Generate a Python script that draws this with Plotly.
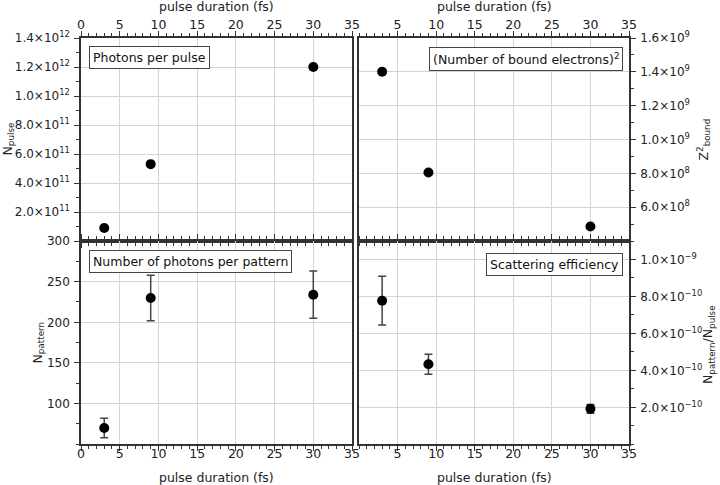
import plotly.graph_objects as go

# ---------------- data ----------------
duration = [3, 9, 30]
n_pulse = [9.0e10, 5.3e11, 1.2e12]
z2_bound = [1.40e9, 8.05e8, 4.86e8]
n_pattern = [70, 230, 234]
n_pattern_err = [12, 28, 29]
efficiency = [7.77e-10, 4.33e-10, 1.92e-10]
efficiency_err = [1.32e-10, 0.54e-10, 0.24e-10]

x_ticks_left = [0, 5, 10, 15, 20, 25, 30, 35]
x_ticks_right = [5, 10, 15, 20, 25, 30, 35]

tl_ticks = [2e11, 4e11, 6e11, 8e11, 1.0e12, 1.2e12, 1.4e12]
tl_text = ["2.0×10<sup>11</sup>", "4.0×10<sup>11</sup>", "6.0×10<sup>11</sup>", "8.0×10<sup>11</sup>",
           "1.0×10<sup>12</sup>", "1.2×10<sup>12</sup>", "1.4×10<sup>12</sup>"]
tr_ticks = [6e8, 8e8, 1.0e9, 1.2e9, 1.4e9, 1.6e9]
tr_text = ["6.0×10<sup>8</sup>", "8.0×10<sup>8</sup>", "1.0×10<sup>9</sup>", "1.2×10<sup>9</sup>",
           "1.4×10<sup>9</sup>", "1.6×10<sup>9</sup>"]
bl_ticks = [100, 150, 200, 250, 300]
br_ticks = [2e-10, 4e-10, 6e-10, 8e-10, 1.0e-9]
br_text = ["2.0×10<sup>−10</sup>", "4.0×10<sup>−10</sup>", "6.0×10<sup>−10</sup>", "8.0×10<sup>−10</sup>",
           "1.0×10<sup>−9</sup>"]

x_title = "pulse duration (fs)"
y_titles = ["N<sub>pulse</sub>", "Z<sup>2</sup><sub>bound</sub>", "N<sub>pattern</sub>",
            "N<sub>pattern</sub>/N<sub>pulse</sub>"]
panel_labels = ["Photons per pulse", "(Number of bound electrons)<sup>2</sup>",
                "Number of photons per pattern", "Scattering efficiency"]

# ---------------- layout geometry ----------------
W, H = 720, 485
xl = [81 / W, 352 / W]
xr = [359 / W, 629 / W]
yt = [1 - 241 / H, 1 - 38 / H]
yb = [1 - 444.3 / H, 1 - 241 / H]

FONT = "DejaVu Sans"
FS = 12.5
TFS = 12
AX = "#333333"
GRID = "#cdd5dd"
TXT = "#222222"

marker = dict(color="black", size=10)
err_style = dict(color="#444444", thickness=1.5, width=4)

fig = go.Figure()
fig.add_trace(go.Scatter(x=duration, y=n_pulse, mode="markers", marker=marker,
                         xaxis="x", yaxis="y", showlegend=False))
fig.add_trace(go.Scatter(x=duration, y=z2_bound, mode="markers", marker=marker,
                         xaxis="x2", yaxis="y2", showlegend=False))
fig.add_trace(go.Scatter(x=duration, y=n_pattern, mode="markers", marker=marker,
                         error_y=dict(type="data", array=n_pattern_err, **err_style),
                         xaxis="x3", yaxis="y3", showlegend=False))
fig.add_trace(go.Scatter(x=duration, y=efficiency, mode="markers", marker=marker,
                         error_y=dict(type="data", array=efficiency_err, **err_style),
                         xaxis="x4", yaxis="y4", showlegend=False))

tickfont = dict(family=FONT, size=TFS, color=TXT)


def xaxis(domain, anchor, side, tickvals, standoff):
    return dict(domain=domain, anchor=anchor, side=side, range=[0, 35], automargin=False,
                tickmode="array", tickvals=tickvals, ticktext=[str(v) for v in tickvals],
                showline=True, linecolor=AX, linewidth=1.5, mirror="ticks",
                ticks="outside", ticklen=5, tickwidth=1.2, tickcolor=AX,
                minor=dict(dtick=1, tick0=0, ticks="outside", ticklen=3, tickwidth=1, tickcolor=AX,
                           showgrid=False),
                showgrid=True, gridcolor=GRID, gridwidth=1, zeroline=False,
                tickfont=dict(family=FONT, size=FS, color=TXT), ticklabelstandoff=standoff)


def yaxis(domain, anchor, side, rng, tickvals, ticktext, minor_dtick):
    return dict(domain=domain, anchor=anchor, side=side, range=rng, automargin=False,
                tickmode="array", tickvals=tickvals, ticktext=ticktext,
                showline=True, linecolor=AX, linewidth=1.5, mirror=True,
                ticks="outside", ticklen=5, tickwidth=1.2, tickcolor=AX,
                minor=dict(dtick=minor_dtick, tick0=0, ticks="outside", ticklen=3,
                           tickwidth=1, tickcolor=AX, showgrid=False),
                showgrid=True, gridcolor=GRID, gridwidth=1, zeroline=False,
                tickfont=tickfont, ticklabelstandoff=2)


fig.update_layout(
    width=W, height=H,
    margin=dict(l=0, r=0, t=0, b=0),
    paper_bgcolor="white", plot_bgcolor="white",
    font=dict(family=FONT, size=FS, color=TXT),
    xaxis=xaxis(xl, "y", "top", x_ticks_left, -3),
    xaxis2=xaxis(xr, "y2", "top", x_ticks_right, -3),
    xaxis3=xaxis(xl, "y3", "bottom", x_ticks_left, -8),
    xaxis4=xaxis(xr, "y4", "bottom", x_ticks_right, -8),
    yaxis=yaxis(yt, "x", "left", [0, 1.4e12], tl_ticks, tl_text, 1e11),
    yaxis2=yaxis(yt, "x2", "right", [4e8, 1.6e9], tr_ticks, tr_text, 1e8),
    yaxis3=yaxis(yb, "x3", "left", [50, 300], bl_ticks, [str(v) for v in bl_ticks], 25),
    yaxis4=yaxis(yb, "x4", "right", [0, 1.1e-9], br_ticks, br_text, 1e-10),
)

# axis titles as annotations
title_font = dict(family=FONT, size=FS, color=TXT)
tkw = dict(showarrow=False, xref="paper", yref="paper", font=title_font,
           xanchor="center", yanchor="middle")
for cx in [(81 + 352) / 2, (359 + 629) / 2]:
    fig.add_annotation(text=x_title, x=cx / W, y=1 - 6.5 / H, **tkw)
    fig.add_annotation(text=x_title, x=cx / W, y=1 - 477.5 / H, **tkw)
fig.add_annotation(text=y_titles[0], x=8 / W, y=1 - 139.5 / H, textangle=-90, **tkw)
fig.add_annotation(text=y_titles[1], x=703 / W, y=1 - 139.5 / H, textangle=-90, **tkw)
fig.add_annotation(text=y_titles[2], x=38 / W, y=1 - 342.5 / H, textangle=-90, **tkw)
fig.add_annotation(text=y_titles[3], x=708 / W, y=1 - 345 / H, textangle=-90, **tkw)

# panel labels in boxes
box = dict(showarrow=False, xref="paper", yref="paper", bordercolor="#444444", borderwidth=1,
           borderpad=3, bgcolor="white", font=dict(family=FONT, size=FS, color="#111111"),
           yanchor="top")
fig.add_annotation(text=panel_labels[0], x=89 / W, y=1 - 46 / H, xanchor="left", **box)
fig.add_annotation(text=panel_labels[1], x=623 / W, y=1 - 47 / H, xanchor="right", **box)
fig.add_annotation(text=panel_labels[2], x=89 / W, y=1 - 250 / H, xanchor="left", **box)
fig.add_annotation(text=panel_labels[3], x=623 / W, y=1 - 253 / H, xanchor="right", **box)

fig.write_html("out.html", config={"displayModeBar": False},
               post_script="document.body.style.margin='0';document.body.style.overflow='hidden';")
